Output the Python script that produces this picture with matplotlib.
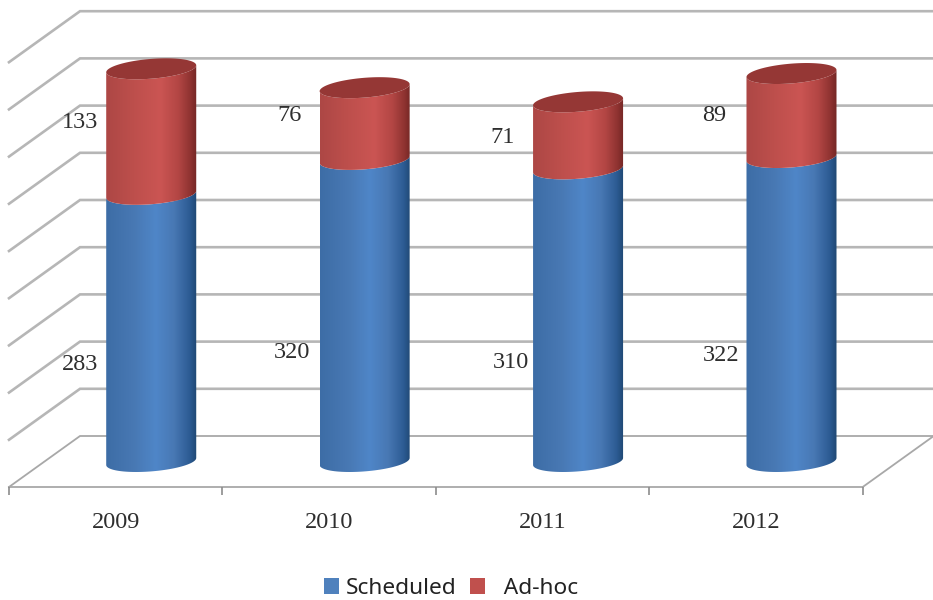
import numpy as np
import matplotlib
matplotlib.use("Agg")
import matplotlib.pyplot as plt
from matplotlib.colors import LinearSegmentedColormap
from matplotlib.patches import Patch, PathPatch, Polygon
from matplotlib.path import Path

years = ["2009", "2010", "2011", "2012"]
scheduled = [283, 320, 310, 322]
adhoc = [133, 76, 71, 89]
grid_values = [0, 50, 100, 150, 200, 250, 300, 350, 400, 450]

# label offsets from the middle of each segment, in pixels
scheduled_offsets = [(-71, -37), (-73, -42), (-67, -47), (-70, -46)]
adhoc_offsets = [(-71, 9), (-75, 8), (-76, -2), (-77, 0)]

W, H = 933, 600
fig = plt.figure(figsize=(W / 100, H / 100), dpi=100, facecolor="white")
ax = fig.add_axes([9 / W, 113 / H, 853.7 / W, 472 / H])
ax.set_xlim(-0.5, 3.5)
ax.set_ylim(0, 500)

px_x = 213.4          # pixels per category
px_y = 0.944          # pixels per value unit
depth_x = 71 / px_x
depth_y = 51 / px_y
semi_a = 45 / px_x
semi_b = 9.9 / px_y
tilt = 3.5 / px_y

GRID = "#b6b6b6"
FLOOR = "#a8a8a8"
for v in grid_values:
    xs = [-0.5, -0.5 + depth_x, 3.5 + depth_x]
    ys = [v, v + depth_y, v + depth_y]
    lw = 1.3 if v == 0 else 1.9
    ax.plot(xs, ys, color=FLOOR if v == 0 else GRID, lw=lw,
            clip_on=False, zorder=1, solid_joinstyle="miter")
ax.plot([-0.5, 3.5, 3.5 + depth_x], [0, 0, depth_y], color=FLOOR, lw=1.3,
        clip_on=False, zorder=1, solid_joinstyle="miter")

blue_cmap = LinearSegmentedColormap.from_list(
    "b", [(0, "#3d6da6"), (0.3, "#4878b3"), (0.55, "#4f86c8"), (0.75, "#4878b4"),
          (0.92, "#2d5c94"), (1, "#1f4874")])
red_cmap = LinearSegmentedColormap.from_list(
    "r", [(0, "#ad4745"), (0.3, "#bd4f4c"), (0.6, "#cb5553"), (0.8, "#b34644"),
          (0.93, "#8f3331"), (1, "#752725")])
CAP = "#953735"

t_front = np.linspace(np.pi, 2 * np.pi, 50)
t_all = np.linspace(0, 2 * np.pi, 100)


def edge(cx, level, t):
    return cx + semi_a * np.cos(t), level + depth_y / 2 + semi_b * np.sin(t) + tilt * np.cos(t)


def segment(cx, low, high, cmap):
    x0, y0 = edge(cx, low, t_front)
    x1, y1 = edge(cx, high, t_front[::-1])
    verts = np.column_stack([np.r_[x0, x1], np.r_[y0, y1]])
    verts = np.vstack([verts, verts[0]])
    clip = PathPatch(Path(verts), transform=ax.transData, fc="none", ec="none")
    ax.add_patch(clip)
    im = ax.imshow(np.linspace(0, 1, 128)[None, :], cmap=cmap, vmin=0, vmax=1,
                   extent=[cx - semi_a, cx + semi_a, low, high + depth_y],
                   aspect="auto", interpolation="bilinear", zorder=3)
    im.set_clip_path(clip)


for i, (s, a) in enumerate(zip(scheduled, adhoc)):
    cx = i + depth_x / 2
    segment(cx, 0, s, blue_cmap)
    segment(cx, s, s + a, red_cmap)
    xc, yc = edge(cx, s + a, t_all)
    ax.add_patch(Polygon(np.column_stack([xc, yc]), closed=True, fc=CAP, ec="none", zorder=4))
    ax.annotate(str(s), (cx, s / 2 + depth_y / 2), xytext=scheduled_offsets[i],
                textcoords="offset pixels", ha="center", va="center",
                family="Liberation Serif", fontsize=17.5, color="#2e2e2e", zorder=5)
    ax.annotate(str(a), (cx, s + a / 2 + depth_y / 2), xytext=adhoc_offsets[i],
                textcoords="offset pixels", ha="center", va="center",
                family="Liberation Serif", fontsize=17.5, color="#2e2e2e", zorder=5)

ax.set_xlim(-0.5, 3.5)
ax.set_ylim(0, 500)
ax.patch.set_visible(False)
for name in ("top", "left", "right", "bottom"):
    ax.spines[name].set_visible(False)
ax.yaxis.set_visible(False)
ax.set_xticks(np.arange(-0.5, 4, 1))
ax.set_xticklabels([])
ax.set_xticks(range(4), years, minor=True)
ax.tick_params(axis="x", which="major", length=6, width=1.2, color="#8c8c8c")
ax.tick_params(axis="x", which="minor", length=0, pad=18, labelsize=17.5, labelcolor="#2e2e2e")
for lab in ax.get_xticklabels(minor=True):
    lab.set_family("Liberation Serif")

handles = [Patch(fc="#4f81bd", label="Scheduled"), Patch(fc="#c0504d", label="  Ad-hoc")]
ax.legend(handles=handles, ncol=2, frameon=False, loc="center",
          bbox_to_anchor=(451 / W, 1 - 588.5 / H), bbox_transform=fig.transFigure,
          prop={"family": "Noto Sans", "size": 16.3}, handlelength=0.68, handleheight=0.68,
          handletextpad=0.3, columnspacing=0.6, labelcolor="#222222")

fig.savefig("out.png", dpi=100, facecolor="white")
